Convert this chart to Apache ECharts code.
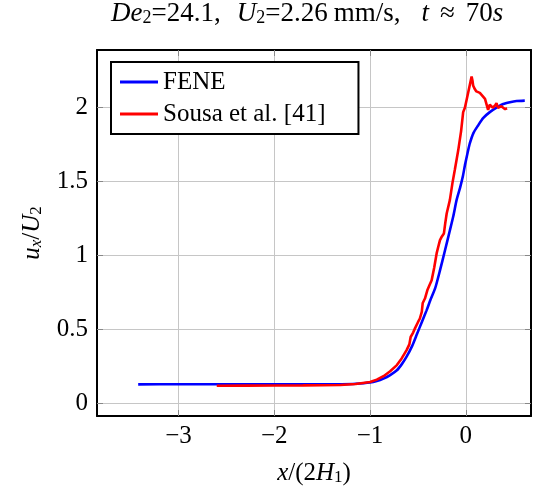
<!DOCTYPE html>
<html>
<head>
<meta charset="utf-8">
<script src="https://cdn.jsdelivr.net/npm/echarts@6/dist/echarts.min.js"></script>
<style>html,body{margin:0;padding:0;background:#fff}#c{width:536px;height:492px}</style>
</head>
<body>
<div id="c"></div>
<script>
var xTicks = [-3, -2, -1, 0];
var yTicks = [0, 0.5, 1, 1.5, 2];

var feneX = [-3.42, -3.0, -2.5, -2.0, -1.5, -1.3, -1.15, -1.0, -0.93, -0.86, -0.79, -0.72, -0.67, -0.62, -0.56, -0.51, -0.46, -0.41, -0.37, -0.32, -0.27, -0.22, -0.167, -0.13, -0.097, -0.06, -0.03, -0.01, 0.02, 0.042, 0.08, 0.128, 0.18, 0.25, 0.32, 0.39, 0.46, 0.53, 0.615];
var feneY = [0.13, 0.131, 0.131, 0.13, 0.13, 0.131, 0.134, 0.142, 0.152, 0.169, 0.193, 0.225, 0.265, 0.315, 0.39, 0.47, 0.55, 0.63, 0.70, 0.78, 0.90, 1.03, 1.17, 1.27, 1.375, 1.46, 1.54, 1.61, 1.70, 1.76, 1.83, 1.88, 1.93, 1.97, 2.0, 2.025, 2.037, 2.045, 2.048];

var sousaX = [-2.60, -2.3, -2.0, -1.7, -1.5, -1.31, -1.15, -1.0, -0.93, -0.86, -0.79, -0.72, -0.67, -0.62, -0.59, -0.576, -0.55, -0.53, -0.50, -0.48, -0.46, -0.45, -0.427, -0.40, -0.38, -0.357, -0.33, -0.305, -0.28, -0.27, -0.25, -0.229, -0.215, -0.20, -0.167, -0.14, -0.115, -0.08, -0.05, -0.028, -0.01, 0.007, 0.03, 0.06, 0.07, 0.076, 0.09, 0.11, 0.13, 0.146, 0.16, 0.18, 0.2, 0.215, 0.232, 0.25, 0.268, 0.28, 0.29, 0.305, 0.32, 0.335, 0.354, 0.37, 0.39, 0.41, 0.43];
var sousaY = [0.12, 0.121, 0.122, 0.123, 0.124, 0.126, 0.132, 0.146, 0.162, 0.185, 0.218, 0.26, 0.305, 0.36, 0.40, 0.45, 0.48, 0.51, 0.55, 0.575, 0.62, 0.68, 0.71, 0.77, 0.80, 0.834, 0.92, 1.015, 1.08, 1.105, 1.13, 1.15, 1.22, 1.285, 1.375, 1.49, 1.58, 1.71, 1.84, 1.97, 2.0, 2.05, 2.12, 2.21, 2.18, 2.15, 2.13, 2.11, 2.105, 2.10, 2.09, 2.075, 2.06, 2.05, 1.985, 2.02, 2.03, 2.0, 1.996, 2.015, 2.03, 2.0, 1.996, 2.01, 2.007, 1.99, 1.996];

function zip(a, b) { return a.map(function (v, i) { return [v, b[i]]; }); }

var FONT = '"Liberation Serif", "DejaVu Serif", serif';
function richSet(big, small, drop) {
  return {
    i: { fontFamily: FONT, fontStyle: 'italic', fontWeight: 'normal', fontSize: big, color: '#000' },
    n: { fontFamily: FONT, fontWeight: 'normal', fontSize: big, color: '#000' },
    s: { fontFamily: FONT, fontWeight: 'normal', fontSize: small, color: '#000', verticalAlign: 'bottom', padding: [drop, 0, 0, 0] },
    si: { fontFamily: FONT, fontWeight: 'normal', fontSize: small, fontStyle: 'italic', color: '#000', verticalAlign: 'bottom', padding: [drop, 0, 0, 0] },
    g1: { fontSize: big, width: 16 },
    g2: { fontSize: big, width: 21 },
    g3: { fontSize: big, width: 11 },
    g4: { fontSize: big, width: 6 }
  };
}

var chart = echarts.init(document.getElementById('c'), null, { renderer: 'canvas' });
var tickStyle = { color: '#888', width: 1 };
chart.setOption({
  animation: false,
  backgroundColor: '#fff',
  title: {
    text: '{i|De}{s|2}{n|=24.1,}{g1| }{i|U}{s|2}{n|=2.26}{g4| }{n|mm/s,}{g2| }{i|t}{g3| }{n|\u2248}{g3| }{n|70}{i|s}',
    left: 111, top: 0, padding: 0,
    textStyle: { rich: richSet(27, 18, 9), fontSize: 27, fontWeight: 'normal' }
  },
  legend: {
    orient: 'vertical', left: 111, top: 62,
    backgroundColor: '#fff',
    borderColor: '#000', borderWidth: 2, borderRadius: 0,
    padding: [7, 33, 7, 9],
    itemGap: 6, itemWidth: 38, itemHeight: 3, itemTextGap: 6,
    icon: 'rect',
    textStyle: { fontFamily: FONT, fontSize: 25, color: '#000', lineHeight: 26 },
    data: ['FENE', 'Sousa et al. [41]']
  },
  grid: { left: 97, right: 5, top: 50, bottom: 76, containLabel: false },
  xAxis: [{
    type: 'value', min: -3.85, max: 0.68, position: 'bottom',
    name: '{i|x}{n|/(2}{i|H}{s|1}{n|)}', nameLocation: 'middle', nameGap: 44,
    nameTextStyle: { rich: richSet(25, 17, 9), fontSize: 25 },
    axisLine: { show: true, onZero: false, lineStyle: { color: '#000', width: 2 } },
    axisTick: { show: true, inside: true, length: 6, customValues: xTicks, lineStyle: tickStyle },
    axisLabel: { customValues: xTicks, margin: 8, fontFamily: FONT, fontSize: 25, color: '#000',
      formatter: function (v) { return v < 0 ? '\u2212' + Math.abs(v) : String(v); } },
    splitLine: { show: true, lineStyle: { color: '#c6c6c6', width: 1 } }
  }, {
    type: 'value', min: -3.85, max: 0.68, position: 'top',
    axisLine: { show: true, onZero: false, lineStyle: { color: '#000', width: 2 } },
    axisTick: { show: true, inside: true, length: 6, customValues: xTicks, lineStyle: tickStyle },
    axisLabel: { show: false }, splitLine: { show: false }
  }],
  yAxis: [{
    type: 'value', min: -0.084, max: 2.39, position: 'left',
    name: '{i|u}{si|x}{n|/}{i|U}{s|2}', nameLocation: 'middle', nameGap: 52, nameRotate: 90,
    nameTextStyle: { rich: richSet(25, 17, 9), fontSize: 25 },
    axisLine: { show: true, onZero: false, lineStyle: { color: '#000', width: 2 } },
    axisTick: { show: true, inside: true, length: 6, customValues: yTicks, lineStyle: tickStyle },
    axisLabel: { customValues: yTicks, margin: 9, fontFamily: FONT, fontSize: 25, color: '#000' },
    splitLine: { show: true, lineStyle: { color: '#c6c6c6', width: 1 } }
  }, {
    type: 'value', min: -0.084, max: 2.39, position: 'right',
    axisLine: { show: true, onZero: false, lineStyle: { color: '#000', width: 2 } },
    axisTick: { show: true, inside: true, length: 6, customValues: yTicks, lineStyle: tickStyle },
    axisLabel: { show: false }, splitLine: { show: false }
  }],
  series: [{
    name: 'FENE', type: 'line', data: zip(feneX, feneY), showSymbol: false, symbol: 'none', smooth: 0.2,
    lineStyle: { color: '#0000ff', width: 2.6 }, itemStyle: { color: '#0000ff' }, z: 2
  }, {
    name: 'Sousa et al. [41]', type: 'line', data: zip(sousaX, sousaY), showSymbol: false, symbol: 'none',
    lineStyle: { color: '#ff0000', width: 2.6 }, itemStyle: { color: '#ff0000' }, z: 3
  }]
});
</script>
</body>
</html>
